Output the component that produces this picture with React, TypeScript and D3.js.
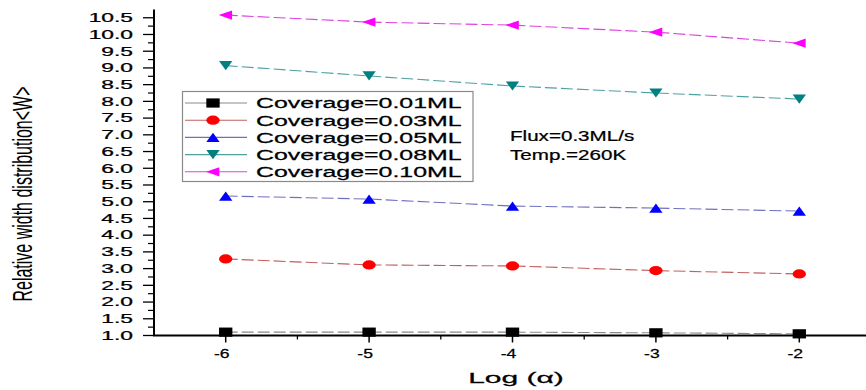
import React from "react";
import * as d3 from "d3";

const xValues = [-6, -5, -4, -3, -2];
const seriesNames = [
  "Coverage=0.01ML",
  "Coverage=0.03ML",
  "Coverage=0.05ML",
  "Coverage=0.08ML",
  "Coverage=0.10ML",
];
const cov001 = [1.1, 1.1, 1.1, 1.08, 1.05];
const cov003 = [3.29, 3.11, 3.08, 2.94, 2.84];
const cov005 = [5.17, 5.08, 4.87, 4.81, 4.72];
const cov008 = [9.07, 8.76, 8.46, 8.25, 8.07];
const cov010 = [10.58, 10.37, 10.28, 10.07, 9.74];
const yTickLabels = ["1.0", "1.5", "2.0", "2.5", "3.0", "3.5", "4.0", "4.5", "5.0", "5.5", "6.0", "6.5", "7.0", "7.5", "8.0", "8.5", "9.0", "9.5", "10.0", "10.5"];
const xTickLabels = ["-6", "-5", "-4", "-3", "-2"];
const annotations = ["Flux=0.3ML/s", "Temp.=260K"];

const colors = ["#000000", "#ff0000", "#0000ff", "#008080", "#ff00ff"];
const lineColors = ["#8a8a8a", "#c06060", "#7070c0", "#50a0a0", "#e040e0"];
const shapes = ["square", "circle", "up", "down", "left"];

const FONT = "Arial, 'Liberation Sans', sans-serif";

function Marker({ shape, color, x, y }: { shape: string; color: string; x: number; y: number }) {
  const s = 4.6;
  let el: React.ReactNode;
  if (shape === "square") el = <rect x={-s} y={-s} width={2 * s} height={2 * s} fill={color} />;
  else if (shape === "circle") el = <circle r={s} fill={color} />;
  else if (shape === "up") el = <path d={`M0,${-s}L${s},${s}L${-s},${s}Z`} fill={color} />;
  else if (shape === "down") el = <path d={`M0,${s}L${s},${-s}L${-s},${-s}Z`} fill={color} />;
  else el = <path d={`M${-s * 1.05},0L${s * 0.95},${-s}L${s * 0.95},${s}Z`} fill={color} />;
  return <g transform={`translate(${x},${y}) scale(1.45,1)`}>{el}</g>;
}

export default function App() {
  const series = [cov001, cov003, cov005, cov008, cov010];
  const x = d3.scaleLinear().domain([-6.5, -1.5]).range([154, 871]);
  const y = d3.scaleLinear().domain([1.0, 10.75]).range([335.5, 9.4]);
  const line = d3
    .line<number>()
    .x((_, i) => x(xValues[i]))
    .y((d) => y(d));

  const yMajor = yTickLabels.map((t) => +t);
  const yMinor = d3.range(1.25, 10.75, 0.5);
  const xMajor = xTickLabels.map((t) => +t);
  const xMinor = [-5.5, -4.5, -3.5, -2.5];

  const legendX = 182.5;
  const legendY = 91.5;
  const rowH = 17.2;
  const txtStroke = { stroke: "#000", strokeWidth: 0.25 };

  return (
    <svg width={866} height={390} style={{ position: "absolute", left: 0, top: 0, background: "#fff" }} fontFamily={FONT}>
      <rect width={866} height={390} fill="#fff" />
      {series.map((s, i) => (
        <path key={i} d={line(s) || ""} fill="none" stroke={lineColors[i]} strokeWidth={1.1} strokeDasharray="12,4" />
      ))}
      <line x1={154} x2={154} y1={y(10.75)} y2={y(1.0)} stroke="#000" strokeWidth={2} />
      <line x1={153} x2={866} y1={y(1.0)} y2={y(1.0)} stroke="#000" strokeWidth={2} />
      {yMajor.map((v, i) => (
        <g key={"ym" + i}>
          <line x1={143} x2={154} y1={y(v)} y2={y(v)} stroke="#000" strokeWidth={1.3} />
          <text transform={`translate(133,${y(v) + 4.3}) scale(1.9,1)`} textAnchor="end" fontSize={12} fill="#000" {...txtStroke}>
            {yTickLabels[i]}
          </text>
        </g>
      ))}
      {yMinor.map((v, i) => (
        <line key={"yn" + i} x1={148} x2={154} y1={y(v)} y2={y(v)} stroke="#000" strokeWidth={1.2} />
      ))}
      {xMajor.map((v, i) => (
        <g key={"xm" + i}>
          <line x1={x(v)} x2={x(v)} y1={y(1.0)} y2={y(1.0) + 7} stroke="#000" strokeWidth={1.5} />
          <text transform={`translate(${x(v) - 4},358) scale(1.35,1)`} textAnchor="middle" fontSize={13} fill="#000" {...txtStroke}>
            {xTickLabels[i]}
          </text>
        </g>
      ))}
      {xMinor.map((v, i) => (
        <line key={"xn" + i} x1={x(v)} x2={x(v)} y1={y(1.0)} y2={y(1.0) + 4} stroke="#000" strokeWidth={1.3} />
      ))}
      {series.map((s, i) =>
        s.map((v, j) => <Marker key={i + "-" + j} shape={shapes[i]} color={colors[i]} x={x(xValues[j])} y={y(v)} />)
      )}
      <text transform="translate(516,383) scale(2,1)" textAnchor="middle" fontSize={15} fill="#000" {...txtStroke}>
        Log (α)
      </text>
      <text transform="translate(22,194) rotate(-90) scale(1,1.7)" textAnchor="middle" dy="0.36em" fontSize={16} fill="#000">
        Relative width distribution&lt;W&gt;
      </text>
      <rect x={legendX} y={legendY} width={290.5} height={90} fill="#fff" stroke="#8a8a8a" strokeWidth={1.2} />
      {seriesNames.map((n, i) => {
        const cy = legendY + 11.5 + i * rowH;
        return (
          <g key={"lg" + i}>
            <line x1={185} x2={247} y1={cy} y2={cy} stroke={lineColors[i]} strokeWidth={1.1} />
            <Marker shape={shapes[i]} color={colors[i]} x={213} y={cy} />
            <text transform={`translate(256,${cy + 5.3}) scale(1.72,1)`} fontSize={14.5} fill="#000" {...txtStroke}>
              {n}
            </text>
          </g>
        );
      })}
      {annotations.map((a, i) => (
        <text key={"an" + i} transform={`translate(510,${141 + i * 19}) scale(1.33,1)`} fontSize={15.5} fill="#000" {...txtStroke}>
          {a}
        </text>
      ))}
    </svg>
  );
}
